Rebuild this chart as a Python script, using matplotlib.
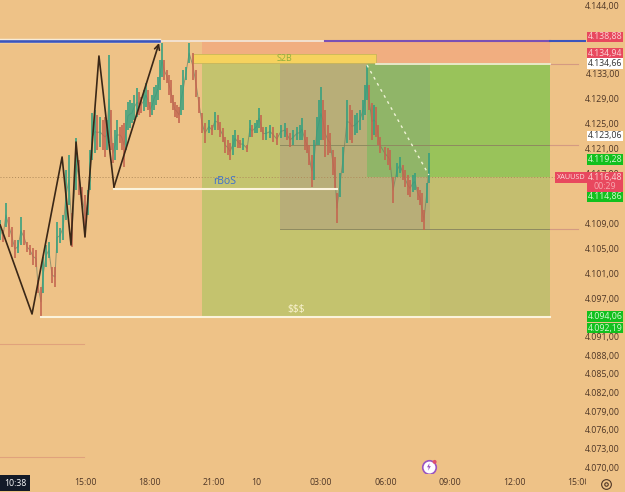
import matplotlib
matplotlib.use("Agg")
import matplotlib.pyplot as plt
from matplotlib.lines import Line2D
from matplotlib.patches import Rectangle
from matplotlib.path import Path
from matplotlib.transforms import Bbox

plt.rcParams['font.family'] = ['Open Sans', 'DejaVu Sans']

# XAUUSD bars: trading minutes after 15:00, bar highs and bar lows
bar_minutes = [-237, -229, -221, -212, -204, -196, -187, -179, -170, -162, -154, -145, -137, -131, -123, -117,
               -109, -101, -92, -84, -78, -70, -61, -53, -45, -36, -25, -17, -8, 0, 8, 14, 20, 28, 42, 56, 67,
               78, 89, 98, 109, 120, 131, 145, 156, 170, 182, 193, 204, 215, 229, 240, 251, 263, 274, 282, 291,
               302, 310, 319, 327, 335, 346, 363, 377, 391, 405, 419, 433, 453, 461, 475, 486, 497, 517, 536,
               559, 573, 592, 606, 620, 634, 648, 659, 671, 685, 698, 704, 712, 721, 732, 746, 760, 777, 788,
               802, 813, 824, 838, 852, 861, 872, 880, 894, 908, 922, 930, 941, 947, 955, 961]
bar_highs = [4109.6, 4108.0, 4112.3, 4110.1, 4108.5, 4106.4, 4106.4, 4110.1, 4108.0, 4106.1, 4105.6, 4105.1, 4104.8,
             4100.0, 4098.9, 4103.7, 4105.6, 4106.1, 4102.1, 4102.1, 4109.3, 4108.3, 4110.4, 4117.6, 4120.0, 4110.7,
             4122.7, 4119.2, 4114.9, 4113.6, 4114.4, 4120.8, 4126.7, 4127.2, 4126.1, 4126.1, 4136.0, 4121.9, 4125.6,
             4124.5, 4125.1, 4128.5, 4128.3, 4130.7, 4129.3, 4131.5, 4128.5, 4130.9, 4132.5, 4137.9, 4133.6, 4132.0,
             4128.5, 4127.7, 4133.6, 4134.1, 4137.9, 4136.3, 4133.6, 4129.3, 4126.7, 4125.1, 4125.6, 4126.9, 4125.3,
             4122.9, 4121.9, 4124.0, 4122.4, 4121.6, 4125.6, 4125.1, 4127.5, 4124.5, 4124.8, 4123.5, 4125.1, 4123.5,
             4124.5, 4125.9, 4122.9, 4120.0, 4126.1, 4130.9, 4127.2, 4123.5, 4119.7, 4113.9, 4117.1, 4121.3, 4128.8,
             4127.2, 4126.7, 4128.8, 4134.4, 4128.3, 4127.7, 4122.9, 4121.3, 4120.8, 4116.5, 4118.7, 4119.7, 4117.6,
             4116.0, 4117.1, 4114.9, 4113.9, 4111.2, 4115.5, 4120.3]
bar_lows = [4106.4, 4106.1, 4108.5, 4106.9, 4105.3, 4103.5, 4104.3, 4105.6, 4105.6, 4104.5, 4104.0, 4102.4, 4102.1,
            4097.9, 4094.1, 4097.9, 4102.1, 4103.5, 4099.5, 4098.9, 4104.3, 4105.9, 4106.4, 4109.6, 4112.0, 4105.3,
            4114.4, 4113.6, 4112.0, 4106.9, 4110.4, 4114.4, 4119.2, 4120.3, 4121.3, 4119.7, 4121.9, 4118.7, 4120.8,
            4121.9, 4118.1, 4124.0, 4125.1, 4126.1, 4126.7, 4127.7, 4126.1, 4127.2, 4128.8, 4132.5, 4131.5, 4128.3,
            4126.1, 4125.1, 4127.2, 4132.0, 4134.7, 4132.0, 4129.3, 4126.7, 4123.5, 4121.9, 4123.5, 4124.0, 4122.9,
            4120.3, 4119.2, 4121.3, 4121.1, 4120.5, 4122.9, 4123.5, 4124.3, 4122.4, 4122.7, 4121.6, 4122.9, 4121.3,
            4122.4, 4122.4, 4120.3, 4114.9, 4121.6, 4122.4, 4119.7, 4120.3, 4114.4, 4109.1, 4113.3, 4117.1, 4121.9,
            4121.9, 4123.5, 4125.6, 4128.8, 4122.4, 4122.9, 4120.3, 4119.2, 4117.6, 4112.3, 4116.5, 4117.1, 4114.9,
            4113.3, 4114.4, 4112.8, 4109.3, 4108.0, 4112.3, 4115.5]

# bars in between, for the busier stretches of the session
fine_minutes = [34, 50, 61, 73, 84, 103, 115, 126, 137, 151, 165, 176, 188, 198, 210, 221, 235, 246, 257, 268,
                355, 372, 385, 399, 413, 427, 441, 467, 480, 491, 506, 525, 547, 564, 581, 601, 615, 625, 640,
                654, 665, 679, 693, 740, 754, 768, 782, 793, 807, 819, 846, 888, 902, 916, 936]
fine_highs = [4126.4, 4125.6, 4125.6, 4127.2, 4124.0, 4124.8, 4127.2, 4128.8, 4129.6, 4130.1, 4130.4, 4130.4, 4129.6,
              4131.2, 4135.2, 4135.2, 4132.8, 4129.6, 4128.0, 4131.2, 4124.8, 4126.4, 4124.3, 4122.4, 4123.2, 4123.2,
              4122.7, 4124.8, 4125.6, 4126.4, 4124.5, 4124.5, 4124.8, 4124.3, 4124.0, 4124.8, 4124.0, 4121.6, 4122.4,
              4128.8, 4128.8, 4124.8, 4120.8, 4128.0, 4126.4, 4127.2, 4131.2, 4131.2, 4128.0, 4124.8, 4121.1, 4118.4,
              4116.8, 4116.8, 4114.4]
fine_lows = [4120.8, 4120.8, 4120.8, 4120.8, 4119.2, 4120.8, 4120.8, 4124.3, 4125.6, 4126.4, 4127.0, 4127.2, 4126.4,
             4128.0, 4130.4, 4132.0, 4129.6, 4127.2, 4125.9, 4126.4, 4123.2, 4124.0, 4122.1, 4120.0, 4120.0, 4121.1,
             4120.8, 4122.9, 4123.5, 4123.7, 4122.4, 4122.1, 4122.7, 4122.4, 4121.6, 4122.4, 4120.8, 4118.4, 4116.0,
             4121.6, 4122.4, 4120.0, 4116.8, 4122.4, 4123.2, 4124.0, 4126.4, 4127.2, 4123.2, 4121.6, 4118.4, 4116.0,
             4113.6, 4114.1, 4112.0]

# hand drawn market structure swings
swing_minutes = [-237, -148, -64, -39, -25, 0, 39, 81, 207]
swing_prices = [4108.8, 4094.56, 4119.68, 4105.6, 4122.08, 4106.88, 4135.84, 4114.88, 4137.92]

price_ticks = [4144, 4133, 4129, 4125, 4121, 4117, 4109, 4105, 4101, 4097, 4091, 4088, 4085, 4082, 4079, 4076, 4073, 4070]
price_labels = ['4.144,00', '4.133,00', '4.129,00', '4.125,00', '4.121,00', '4.117,00', '4.109,00', '4.105,00',
                '4.101,00', '4.097,00', '4.091,00', '4.088,00', '4.085,00', '4.082,00', '4.079,00', '4.076,00',
                '4.073,00', '4.070,00']
time_ticks = [0, 180, 360, 480, 660, 840, 1020, 1200, 1380]
time_labels = ['15:00', '18:00', '21:00', '10', '03:00', '06:00', '09:00', '12:00', '15:00']

# axis tags on the price scale
tag_labels = ['4.138,88', '4.134,94', '4.134,66', '4.123,06', '4.119,28', '4.114,86', '4.094,06', '4.092,19']
tag_prices = [4138.88, 4136.3, 4134.66, 4123.06, 4119.28, 4113.3, 4094.2, 4092.3]

W, H = 625, 492
RIGHT, BOTTOM = 586, 473
BG = '#EEC287'
GREEN_TAG, RED_TAG = '#12C01E', '#E8485E'
LABEL = '#4E3626'

fig = plt.figure(figsize=(W / 100, H / 100), dpi=100, facecolor=BG)
ax = fig.add_axes([0, (H - BOTTOM) / H, RIGHT / W, BOTTOM / H], facecolor=BG)
ax.set_xlim(-237.5, 1400)
ax.set_ylim(4069.12, 4144.8)
for s in ax.spines.values():
    s.set_visible(False)


def zone(x0, x1, y0, y1, color, z=1):
    ax.add_patch(Rectangle((x0, y0), x1 - x0, y1 - y0, facecolor=color, edgecolor='none', zorder=z))


# trade zones
zone(327, 1299, 4094.06, 4134.66, '#C4C36E')
zone(327, 1299, 4134.66, 4138.24, '#F1AE80')
zone(964, 1299, 4094.06, 4116.48, '#C3BE6F', 1.1)
zone(788, 1299, 4116.48, 4134.66, '#99C35A', 1.2)
zone(545, 964, 4108.16, 4134.66, '#B8AE78', 1.3)
zone(788, 964, 4116.48, 4134.66, '#90B568', 1.4)
zone(302, 813, 4134.66, 4136.2, '#F6D25E', 2)
ax.plot([302, 813, 813, 302, 302], [4134.66, 4134.66, 4136.2, 4136.2, 4134.66], color='#C9B65A', lw=0.6, zorder=2.1)

# level lines
ax.plot([-237.5, 207], [4138.24, 4138.24], color='#F6EBD8', lw=3.2, zorder=2)
ax.plot([-237.5, 207], [4138.24, 4138.24], color='#3B55BC', lw=1.9, zorder=2.1)
ax.plot([207, 670], [4138.24, 4138.24], color='#F3E4D6', lw=1.3, zorder=2)
ax.plot([670, 1299], [4138.24, 4138.24], color='#7B50B4', lw=1.5, zorder=2)
ax.plot([1299, 1400], [4138.24, 4138.24], color='#3B55BC', lw=1.5, zorder=2)
ax.plot([813, 1299], [4134.56, 4134.56], color='#F7F0DA', lw=1.2, zorder=3)
ax.plot([1299, 1378], [4134.56, 4134.56], color='#D49A82', lw=0.8, zorder=2)
ax.plot([545, 1378], [4121.6, 4121.6], color='#8E8A60', lw=0.7, zorder=2)
ax.plot([1299, 1378], [4121.6, 4121.6], color='#D49A82', lw=0.8, zorder=2.1)
ax.plot([545, 1378], [4108.16, 4108.16], color='#8E8A60', lw=0.7, zorder=2)
ax.plot([1299, 1378], [4108.16, 4108.16], color='#D49A82', lw=0.8, zorder=2.1)
ax.plot([-237.5, 1315], [4116.48, 4116.48], color='#B08A5A', lw=0.7, ls=(0, (1, 2)), zorder=2)
ax.plot([-237.5, -3], [4089.76, 4089.76], color='#E0A27C', lw=0.8, zorder=2)
ax.plot([-237.5, -3], [4071.68, 4071.68], color='#E0A27C', lw=0.8, zorder=2)

# candles, a thin trace through the midpoints keeps them joined
bars = sorted(zip(bar_minutes + fine_minutes, bar_highs + fine_highs, bar_lows + fine_lows))
mids = [(h + l) / 2 for _, h, l in bars]
ax.plot([b[0] for b in bars], mids, color='#6E7F62', lw=0.7, alpha=0.7, zorder=3)
for i, (m, h, l) in enumerate(bars):
    up = i == 0 or mids[i] >= mids[i - 1]
    ax.plot([m, m], [l, h], color='#35A07F' if up else '#C4654F',
            lw=1.3, alpha=0.9, solid_capstyle='butt', zorder=3.2)

# white structure lines
ax.plot([-123, 1299], [4094.06, 4094.06], color='#FBF3DC', lw=1.5, zorder=4)
ax.plot([81, 704], [4114.56, 4114.56], color='#FBF3DC', lw=1.5, zorder=4)

ax.plot(swing_minutes[:-1], swing_prices[:-1], color='#3A2717', lw=1.2, zorder=5)
ax.annotate('', xy=(swing_minutes[-1], swing_prices[-1]), xytext=(swing_minutes[-2], swing_prices[-2]),
            arrowprops=dict(arrowstyle='->', color='#3A2717', lw=1.2, mutation_scale=9, shrinkA=0, shrinkB=0), zorder=5)
ax.plot([788, 961], [4134.4, 4116.8], color='#EFF3D6', lw=1.0, ls=(0, (2, 3)), zorder=5)

ax.text(390, 4115.68, 'rBoS', color='#3B6FD0', fontsize=7.5, ha='center', va='center', zorder=6)
ax.text(556, 4135.4, 'S2B', color='#8FAE3E', fontsize=6.5, ha='center', va='center', zorder=6)
ax.text(590, 4095.3, '$$$', color='#FAF3D0', fontsize=7.5, ha='center', va='center', zorder=6, parse_math=False)

# axes
ax.set_xticks(time_ticks, time_labels)
ax.tick_params(axis='x', length=0, pad=3.4, labelsize=6.3, labelcolor=LABEL)
ax.yaxis.tick_right()
ax.set_yticks(price_ticks, price_labels)
ax.tick_params(axis='y', length=0, pad=24.5, labelsize=6.3, labelcolor=LABEL)
for lbl in ax.get_yticklabels():
    lbl.set_ha('right')
# the last time label runs into the price scale
last = ax.get_xticklabels()[-1]
last.set_clip_box(Bbox([[0, 0], [RIGHT, H]]))
last.set_clip_on(True)

# price scale tags
tr = ax.get_yaxis_transform()
x0 = 587 / RIGHT
wd = 36 / RIGHT
tag_color = [RED_TAG, RED_TAG, 'white', 'white', GREEN_TAG, GREEN_TAG, GREEN_TAG, GREEN_TAG]
text_color = ['#FBD5D5', '#FBD5D5', '#333333', '#333333', '#D8F8D0', '#D8F8D0', '#D8F8D0', '#D8F8D0']
for s, p, c, tc in zip(tag_labels, tag_prices, tag_color, text_color):
    ax.add_patch(Rectangle((x0, p - 0.85), wd, 1.7, transform=tr, facecolor=c, edgecolor='none', clip_on=False, zorder=7))
    ax.text(x0 + wd / 2, p, s, transform=tr, color=tc, fontsize=6.3, ha='center', va='center', clip_on=False, zorder=8)

# current price tag and symbol
ax.add_patch(Rectangle((x0, 4114.1), wd, 3.2, transform=tr, facecolor=RED_TAG, edgecolor='none', clip_on=False, zorder=7))
ax.text(x0 + wd / 2, 4116.48, '4.116,48', transform=tr, color='#FBD5D5', fontsize=6.3, ha='center', va='center', clip_on=False, zorder=8)
ax.text(x0 + wd / 2, 4115.0, '00:29', transform=tr, color='#F7A8B0', fontsize=6.3, ha='center', va='center', clip_on=False, zorder=8)
ax.add_patch(Rectangle((555 / RIGHT, 4115.6), 32 / RIGHT, 1.75, transform=tr, facecolor=RED_TAG, edgecolor='none', clip_on=False, zorder=7))
ax.text(571 / RIGHT, 4116.48, 'XAUUSD', transform=tr, color='#FBE0E0', fontsize=5.2, ha='center', va='center', clip_on=False, zorder=8)

# crosshair time box
fig.add_artist(Rectangle((0, 1 / H), 30 / W, 16 / H, transform=fig.transFigure, facecolor='#131A28', edgecolor='none'))
fig.text(15 / W, (H - 484) / H, '10:38', color='white', fontsize=6.3, ha='center', va='center')

# lightning button
bolt = Path([(0.15, 1), (-0.5, -0.1), (-0.05, -0.1), (-0.2, -1), (0.5, 0.2), (0.05, 0.2), (0.15, 1)])
ax.scatter([961], [4070.1], s=95, facecolor='white', edgecolor='#9A55C0', lw=1.2, zorder=6)
ax.scatter([961], [4070.1], s=30, marker=bolt, facecolor='#9A55C0', edgecolor='none', zorder=7)
ax.scatter([977], [4070.9], s=8, facecolor='#E0506A', edgecolor='none', zorder=8)

# settings button
fig.add_artist(Line2D([606 / W], [(H - 484) / H], marker='o', ms=7, mfc='none', mec=LABEL, mew=0.8, transform=fig.transFigure))
fig.add_artist(Line2D([606 / W], [(H - 484) / H], marker='o', ms=2.5, mfc='none', mec=LABEL, mew=0.8, transform=fig.transFigure))

fig.savefig('out.png', dpi=100, facecolor=BG)
